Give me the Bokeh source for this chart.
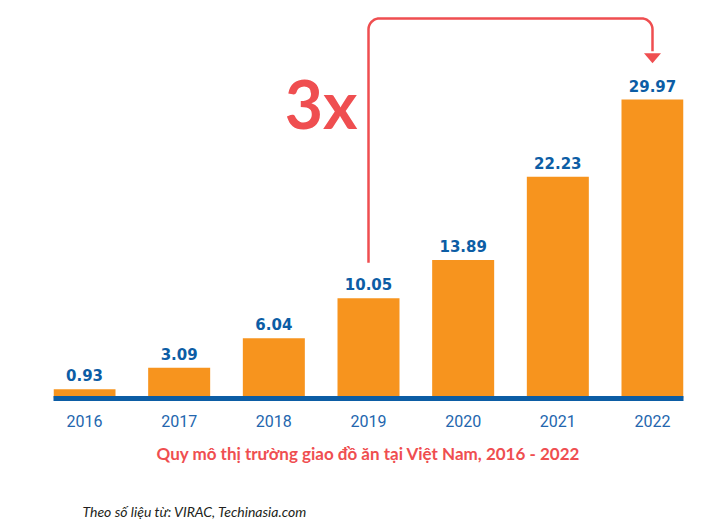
import numpy as np
from bokeh.plotting import figure
from bokeh.models import ColumnDataSource, Range1d, FixedTicker, Label, Title
from bokeh.core.properties import value
from bokeh.embed import file_html
from bokeh.resources import INLINE

# ---- data ----
years = ["2016", "2017", "2018", "2019", "2020", "2021", "2022"]
market_size = [0.93, 3.09, 6.04, 10.05, 13.89, 22.23, 29.97]
title_text = "Quy mô thị trường giao đồ ăn tại Việt Nam, 2016 - 2022"
source_text = "Theo số liệu từ: VIRAC, Techinasia.com"
growth_text = "3x"

ORANGE = "#F7941E"
BLUE = "#0C5DA5"
RED = "#EF4E50"

W, H = 707, 525
FL, FR, FB = 53, 683, 398
Y_END = 39.9

bar_w = 0.655
xs = list(range(len(years)))
src = ColumnDataSource(dict(x=xs, top=market_size,
                            label=[f"{v:.2f}" for v in market_size]))

p = figure(width=W, height=H, output_backend="svg", toolbar_location=None,
           x_range=Range1d(-bar_w / 2, len(years) - 1 + bar_w / 2),
           y_range=Range1d(0, Y_END),
           min_border_left=FL, min_border_right=W - FR, min_border_top=0,
           min_border_bottom=H - FB)
p.outline_line_color = None
p.background_fill_color = "white"
p.border_fill_color = "white"
p.xgrid.visible = False
p.ygrid.visible = False
p.yaxis.visible = False

p.vbar(x="x", top="top", width=bar_w, bottom=0, source=src,
       fill_color=ORANGE, line_color=None)

p.text(x="x", y="top", text="label", source=src, text_align="center",
       text_baseline="alphabetic", y_offset=-14,
       text_font=value("DejaVu Sans"), text_font_style="bold",
       text_font_size="15px", text_color=BLUE)

ax = p.xaxis[0]
ax.ticker = FixedTicker(ticks=xs)
ax.major_label_overrides = {i: y for i, y in enumerate(years)}
ax.axis_line_color = BLUE
ax.axis_line_width = 5
ax.major_tick_line_color = None
ax.minor_tick_line_color = None
ax.major_label_standoff = 10
ax.major_label_text_font = "Roboto"
ax.major_label_text_font_size = "16px"
ax.major_label_text_color = "#2366AE"

# ---- growth arrow from 2019 to 2022 ----
i0, i1 = 3, 6
arrow_start, arrow_top, arrow_tip = 13.6, 38.1, 33.6
px_x = (p.x_range.end - p.x_range.start) / (FR - FL)
px_y = Y_END / FB
r = 11
rx, ry = r * px_x, r * px_y
t = np.linspace(0, np.pi / 2, 12)
path_x = [i0, i0]
path_y = [arrow_start, arrow_top - ry]
path_x += list(i0 + rx - rx * np.cos(t))
path_y += list(arrow_top - ry + ry * np.sin(t))
path_x += list(i1 - rx + rx * np.sin(t))
path_y += list(arrow_top - ry + ry * np.cos(t))
head_h, head_w = 10 * px_y, 8.5 * px_x
path_x += [i1]
path_y += [arrow_tip + head_h + 0.2]
p.line(path_x, path_y, line_color=RED, line_width=2.5, line_join="round")
p.patch([i1 - head_w, i1 + head_w, i1], [arrow_tip + head_h, arrow_tip + head_h, arrow_tip],
        fill_color=RED, line_color=None)

p.add_layout(Label(x=2.5, y=29.6, text=growth_text, text_align="center",
                   text_baseline="alphabetic", text_font="Lato",
                   text_font_style="bold", text_font_size="66px",
                   text_color=RED))

p.add_layout(Title(text=title_text, align="center", text_font="Lato",
                   text_font_style="bold", text_font_size="17px",
                   text_color=RED, standoff=26, vertical_align="top"), "below")
p.add_layout(Title(text=" ", text_font_size="1px", standoff=13), "below")
p.add_layout(Title(text=source_text, align="left", offset=29, text_font="Lato",
                   text_font_style="italic", text_font_size="14px",
                   text_color="#231F20", standoff=12, vertical_align="bottom"), "below")

open("out.html", "w").write(file_html(p, INLINE))
